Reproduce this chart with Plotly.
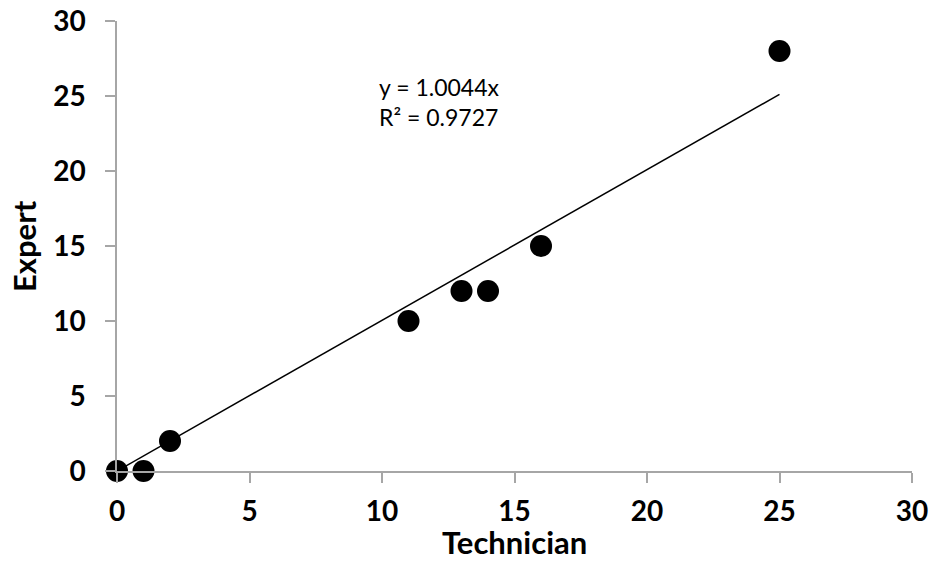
import numpy as np
import plotly.graph_objects as go

technician = [0, 1, 2, 11, 13, 14, 16, 25]
expert = [0, 0, 2, 10, 12, 12, 15, 28]
tick_vals = [0, 5, 10, 15, 20, 25, 30]
x_title = "Technician"
y_title = "Expert"

x = np.array(technician, dtype=float)
y = np.array(expert, dtype=float)
slope = float((x * y).sum() / (x * x).sum())
resid = y - slope * x
r2 = 1 - (resid ** 2).sum() / ((y - y.mean()) ** 2).sum()

FAM = "Lato, Carlito, Calibri, sans-serif"
axis_gray = "#A6A6A6"
tick_font = dict(family=FAM, size=28, color="black", weight="bold")
title_font = dict(family=FAM, size=31, color="black", weight="bold")
eq_font = dict(family=FAM, size=23, color="black")

W, H = 934, 561
ML, MR, MT, MB = 117, 22, 21, 90
plot_w = W - ML - MR
plot_h = H - MT - MB

fig = go.Figure()
xf = np.array([0.0, x.max()])
fig.add_trace(go.Scatter(x=xf, y=slope * xf, mode="lines",
                         line=dict(color="black", width=1.5),
                         hoverinfo="skip", showlegend=False, cliponaxis=False))
fig.add_trace(go.Scatter(x=technician, y=expert, mode="markers",
                         marker=dict(color="black", size=22),
                         showlegend=False, cliponaxis=False))

# trendline equation (two lines placed separately for tight line spacing)
fig.add_annotation(x=9.8, y=25.6, xref="x", yref="y", xanchor="left", yanchor="middle",
                   showarrow=False, text=f"y = {slope:.4f}x", font=eq_font)
fig.add_annotation(x=9.8, y=23.6, xref="x", yref="y", xanchor="left", yanchor="middle",
                   showarrow=False, text=f"R² = {r2:.4f}", font=eq_font)

# axis titles
fig.add_annotation(x=0.5, y=(H - MB - 542) / plot_h, xref="paper", yref="paper",
                   showarrow=False, text=x_title, font=title_font,
                   xanchor="center", yanchor="middle")
fig.add_annotation(x=(24 - ML) / plot_w, y=0.5, xref="paper", yref="paper",
                   showarrow=False, text=y_title, font=title_font, textangle=-90,
                   xanchor="center", yanchor="middle")

fig.update_xaxes(range=[0, 30], tickvals=tick_vals, showgrid=False, zeroline=False,
                 showline=True, linecolor=axis_gray, linewidth=1.5,
                 ticks="outside", ticklen=10, tickcolor=axis_gray, tickwidth=1.5,
                 tickfont=tick_font, ticklabelstandoff=5, automargin=False)
fig.update_yaxes(range=[0, 30], tickvals=tick_vals, showgrid=False, zeroline=False,
                 showline=True, linecolor=axis_gray, linewidth=1.5,
                 ticks="outside", ticklen=10, tickcolor=axis_gray, tickwidth=1.5,
                 tickfont=tick_font, ticklabelstandoff=14, automargin=False)

fig.update_layout(width=W, height=H, plot_bgcolor="white", paper_bgcolor="white",
                  margin=dict(l=ML, r=MR, t=MT, b=MB, autoexpand=False),
                  font=dict(family=FAM))
fig.write_html("out.html", config={"displayModeBar": False},
               post_script="document.body.style.margin='0';document.body.style.overflow='hidden';")
